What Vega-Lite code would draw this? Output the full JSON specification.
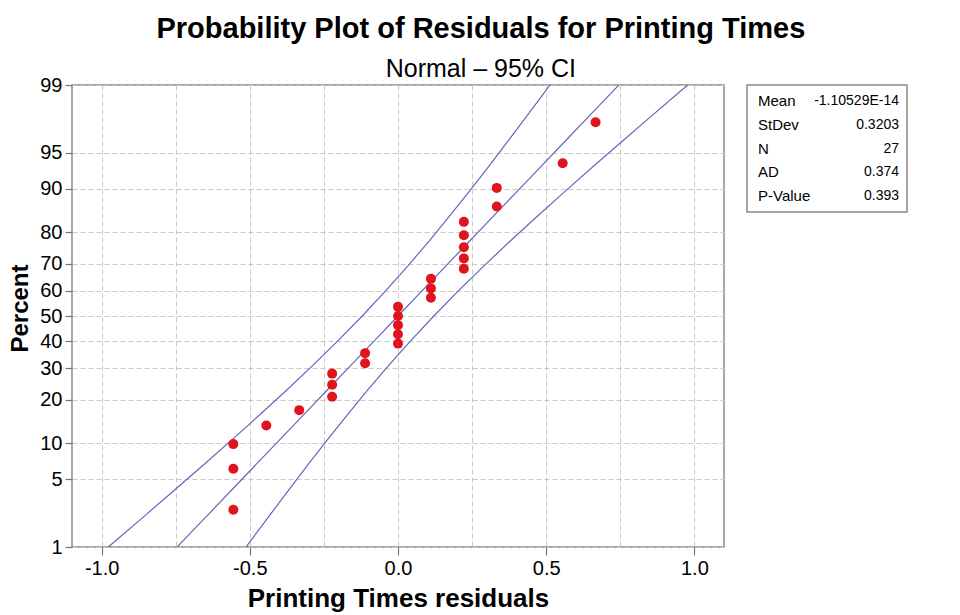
{
  "$schema": "https://vega.github.io/schema/vega-lite/v6.json",
  "background": "white",
  "padding": {"top": 15, "left": 8, "right": 5, "bottom": 5},
  "bounds": "flush",
  "spacing": 23,
  "title": {
    "text": "Probability Plot of Residuals for Printing Times",
    "subtitle": "Normal – 95% CI",
    "anchor": "middle",
    "fontSize": 29,
    "fontWeight": "bold",
    "color": "black",
    "subtitleFontSize": 25,
    "subtitleColor": "black",
    "subtitlePadding": 13,
    "offset": -8,
    "dx": 23
  },
  "config": {
    "font": "Liberation Sans",
    "view": {"stroke": "#8a8a8a", "strokeWidth": 1.5},
    "axis": {
      "domain": false,
      "grid": true,
      "gridColor": "#c8c8c8",
      "gridDash": [5, 3],
      "gridWidth": 1,
      "tickColor": "#777777",
      "tickWidth": 1.2,
      "labelColor": "black",
      "labelFontSize": 20,
      "labelOverlap": false,
      "titleColor": "black",
      "titleFontSize": 26,
      "titleFontWeight": "bold"
    }
  },
  "datasets": {
    "points": [
      {"residual": -0.5556, "percent": 2.55, "normal_score": -1.951},
      {"residual": -0.5556, "percent": 6.20, "normal_score": -1.538},
      {"residual": -0.5556, "percent": 9.85, "normal_score": -1.290},
      {"residual": -0.4444, "percent": 13.50, "normal_score": -1.103},
      {"residual": -0.3333, "percent": 17.15, "normal_score": -0.948},
      {"residual": -0.2222, "percent": 20.80, "normal_score": -0.813},
      {"residual": -0.2222, "percent": 24.45, "normal_score": -0.692},
      {"residual": -0.2222, "percent": 28.10, "normal_score": -0.580},
      {"residual": -0.1111, "percent": 31.75, "normal_score": -0.475},
      {"residual": -0.1111, "percent": 35.40, "normal_score": -0.374},
      {"residual": 0.0, "percent": 39.05, "normal_score": -0.278},
      {"residual": 0.0, "percent": 42.70, "normal_score": -0.184},
      {"residual": 0.0, "percent": 46.35, "normal_score": -0.092},
      {"residual": 0.0, "percent": 50.00, "normal_score": 0.0},
      {"residual": 0.0, "percent": 53.65, "normal_score": 0.092},
      {"residual": 0.1111, "percent": 57.30, "normal_score": 0.184},
      {"residual": 0.1111, "percent": 60.95, "normal_score": 0.278},
      {"residual": 0.1111, "percent": 64.60, "normal_score": 0.374},
      {"residual": 0.2222, "percent": 68.25, "normal_score": 0.475},
      {"residual": 0.2222, "percent": 71.90, "normal_score": 0.580},
      {"residual": 0.2222, "percent": 75.55, "normal_score": 0.692},
      {"residual": 0.2222, "percent": 79.20, "normal_score": 0.813},
      {"residual": 0.2222, "percent": 82.85, "normal_score": 0.948},
      {"residual": 0.3333, "percent": 86.50, "normal_score": 1.103},
      {"residual": 0.3333, "percent": 90.15, "normal_score": 1.290},
      {"residual": 0.5556, "percent": 93.80, "normal_score": 1.538},
      {"residual": 0.6667, "percent": 97.45, "normal_score": 1.951}
    ],
    "bands": [
      {"normal_score": -2.3263, "lower": -0.9777, "fit": -0.7451, "upper": -0.5125},
      {"normal_score": -2.25, "lower": -0.9477, "fit": -0.7207, "upper": -0.4937},
      {"normal_score": -2.0, "lower": -0.8499, "fit": -0.6406, "upper": -0.4313},
      {"normal_score": -1.75, "lower": -0.7527, "fit": -0.5605, "upper": -0.3683},
      {"normal_score": -1.5, "lower": -0.6566, "fit": -0.4805, "upper": -0.3044},
      {"normal_score": -1.25, "lower": -0.5616, "fit": -0.4004, "upper": -0.2392},
      {"normal_score": -1.0, "lower": -0.4683, "fit": -0.3203, "upper": -0.1723},
      {"normal_score": -0.75, "lower": -0.3769, "fit": -0.2402, "upper": -0.1035},
      {"normal_score": -0.5, "lower": -0.2883, "fit": -0.1602, "upper": -0.0321},
      {"normal_score": -0.25, "lower": -0.2028, "fit": -0.0801, "upper": 0.0426},
      {"normal_score": 0.0, "lower": -0.1208, "fit": 0.0, "upper": 0.1208},
      {"normal_score": 0.25, "lower": -0.0426, "fit": 0.0801, "upper": 0.2028},
      {"normal_score": 0.5, "lower": 0.0321, "fit": 0.1602, "upper": 0.2883},
      {"normal_score": 0.75, "lower": 0.1035, "fit": 0.2402, "upper": 0.3769},
      {"normal_score": 1.0, "lower": 0.1723, "fit": 0.3203, "upper": 0.4683},
      {"normal_score": 1.25, "lower": 0.2392, "fit": 0.4004, "upper": 0.5616},
      {"normal_score": 1.5, "lower": 0.3044, "fit": 0.4805, "upper": 0.6566},
      {"normal_score": 1.75, "lower": 0.3683, "fit": 0.5605, "upper": 0.7527},
      {"normal_score": 2.0, "lower": 0.4313, "fit": 0.6406, "upper": 0.8499},
      {"normal_score": 2.25, "lower": 0.4937, "fit": 0.7207, "upper": 0.9477},
      {"normal_score": 2.3263, "lower": 0.5125, "fit": 0.7451, "upper": 0.9777}
    ],
    "stats": [
      {"stat": "Mean", "value": "-1.10529E-14"},
      {"stat": "StDev", "value": "0.3203"},
      {"stat": "N", "value": "27"},
      {"stat": "AD", "value": "0.374"},
      {"stat": "P-Value", "value": "0.393"}
    ]
  },
  "hconcat": [
    {
      "width": 652,
      "height": 462,
      "layer": [
        {
          "data": {"name": "bands"},
          "mark": {"type": "line", "color": "#6666bb", "strokeWidth": 1.2, "clip": true},
          "encoding": {
            "x": {
              "field": "lower", "type": "quantitative", "title": "Printing Times residuals",
              "scale": {"domain": [-1.1, 1.1], "nice": false, "zero": false},
              "axis": {
                "values": [-1, -0.75, -0.5, -0.25, 0, 0.25, 0.5, 0.75, 1],
                "tickCount": 30,
                "labelExpr": "abs(datum.value * 2 - round(datum.value * 2)) < 0.001 ? replace(format(datum.value, '.1f'), '−', '-') : ''",
                "tickOpacity": {"condition": {"test": "abs(datum.value * 2 - round(datum.value * 2)) > 0.001", "value": 0}, "value": 1},
                "tickSize": 8,
                "labelPadding": 3,
                "titlePadding": 7
              }
            },
            "y": {
              "field": "normal_score", "type": "quantitative", "title": "Percent",
              "scale": {"domain": [-2.3263, 2.3263], "nice": false, "zero": false},
              "axis": {
                "values": [-2.3263, -1.6449, -1.2816, -0.8416, -0.5244, -0.2533, 0, 0.2533, 0.5244, 0.8416, 1.2816, 1.6449, 2.3263],
                "tickCount": 30,
                "labelExpr": "format(cumulativeNormal(datum.value) * 100, '.0f')",
                "tickSize": 7,
                "labelPadding": 3,
                "titlePadding": 7,
                "titleFontSize": 24,
                "titleY": 223
              }
            },
            "order": {"field": "normal_score", "type": "quantitative"}
          }
        },
        {
          "data": {"name": "bands"},
          "mark": {"type": "line", "color": "#6666bb", "strokeWidth": 1.2, "clip": true},
          "encoding": {
            "x": {"field": "fit", "type": "quantitative", "title": "Printing Times residuals"},
            "y": {"field": "normal_score", "type": "quantitative", "title": "Percent"},
            "order": {"field": "normal_score", "type": "quantitative"}
          }
        },
        {
          "data": {"name": "bands"},
          "mark": {"type": "line", "color": "#6666bb", "strokeWidth": 1.2, "clip": true},
          "encoding": {
            "x": {"field": "upper", "type": "quantitative", "title": "Printing Times residuals"},
            "y": {"field": "normal_score", "type": "quantitative", "title": "Percent"},
            "order": {"field": "normal_score", "type": "quantitative"}
          }
        },
        {
          "data": {"name": "points"},
          "mark": {"type": "point", "shape": "circle", "filled": true, "size": 100, "color": "#e0141c", "opacity": 1},
          "encoding": {
            "x": {"field": "residual", "type": "quantitative", "title": "Printing Times residuals"},
            "y": {"field": "normal_score", "type": "quantitative", "title": "Percent"}
          }
        }
      ]
    },
    {
      "width": 160,
      "height": 127,
      "data": {"name": "stats"},
      "encoding": {
        "y": {"field": "stat", "type": "nominal", "sort": null, "axis": null, "scale": {"type": "point", "padding": 0.65}}
      },
      "layer": [
        {
          "mark": {"type": "text", "align": "left", "baseline": "middle", "fontSize": 15, "color": "black", "dx": 11},
          "encoding": {
            "x": {"datum": 0, "type": "quantitative", "scale": {"domain": [0, 1], "nice": false}, "axis": null},
            "text": {"field": "stat"}
          }
        },
        {
          "mark": {"type": "text", "align": "right", "baseline": "middle", "fontSize": 14, "color": "black", "dx": -8},
          "encoding": {
            "x": {"datum": 1, "type": "quantitative"},
            "text": {"field": "value"}
          }
        }
      ]
    }
  ]
}
